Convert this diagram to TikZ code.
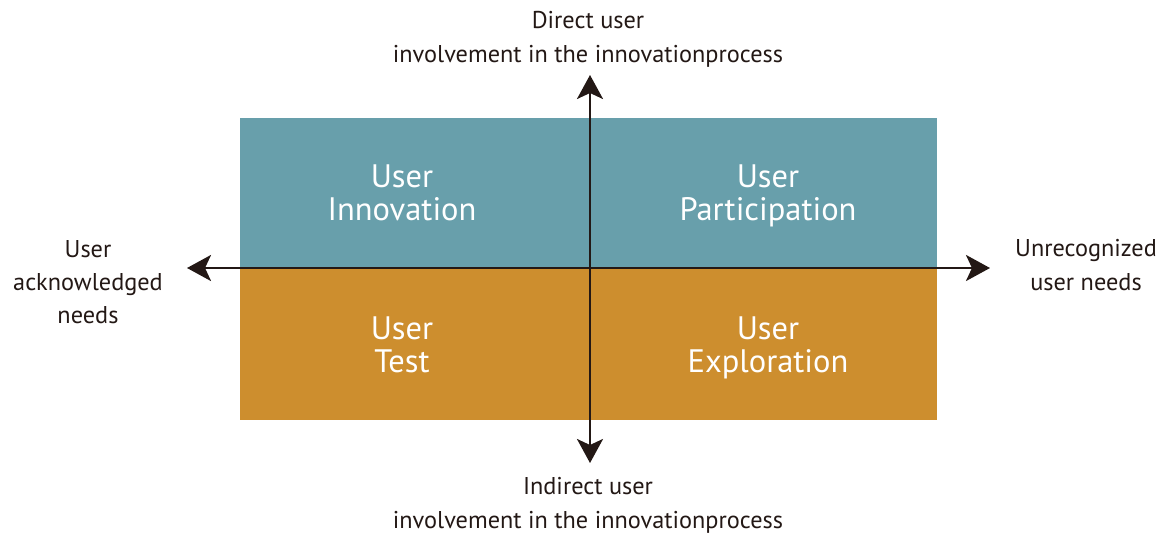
\documentclass[tikz,border=0pt]{standalone}
\usepackage{fontspec}
\setmainfont{PT Sans}
\usetikzlibrary{arrows.meta}
\definecolor{tealq}{HTML}{689FAB}
\definecolor{ochreq}{HTML}{CD8E2E}
\definecolor{inkq}{HTML}{231815}
\begin{document}
\begin{tikzpicture}[x=1pt,y=-1pt,
  quad/.style={text=white,font=\fontsize{32.5}{33}\selectfont,align=center,inner sep=0pt},
  lab/.style={text=inkq,font=\fontsize{24.3}{34}\selectfont,align=center,inner sep=0pt},
  lab3/.style={text=inkq,font=\fontsize{24.3}{33.3}\selectfont,align=center,inner sep=0pt},
  axis/.style={draw=inkq,line width=2.8pt,-{Stealth[length=24pt,width=26pt,inset=6pt]}}]
\useasboundingbox (0,0) rectangle (1164,535);
\fill[tealq] (240,118) rectangle (937,268);
\fill[ochreq] (240,268) rectangle (937,420);
\coordinate (c) at (590,268);
\coordinate (l) at (187,268);
\coordinate (r) at (990,268);
\coordinate (t) at (590,75);
\coordinate (b) at (590,463);
\draw[axis] (c) -- (l);
\draw[axis] (c) -- (r);
\draw[axis] (c) -- (t);
\draw[axis] (c) -- (b);
\node[quad] (ui) at (402,197) {\strut User\\\strut Innovation};
\node[quad] (up) at (768,197) {\strut User\\\strut Participation};
\node[quad] (ut) at (402,349) {\strut User\\\strut Test};
\node[quad] (ue) at (768,349) {\strut User\\\strut Exploration};
\node[lab] (top) at (588,39) {\strut Direct user\\\strut involvement in the innovationprocess};
\node[lab] (bot) at (588,504.5) {\strut Indirect user\\\strut involvement in the innovationprocess};
\node[lab3] (lft) at (88,284) {\strut User\\\strut acknowledged\\\strut needs};
\node[lab] (rgt) at (1086,267) {\strut Unrecognized\\\strut user needs};
\end{tikzpicture}
\end{document}
